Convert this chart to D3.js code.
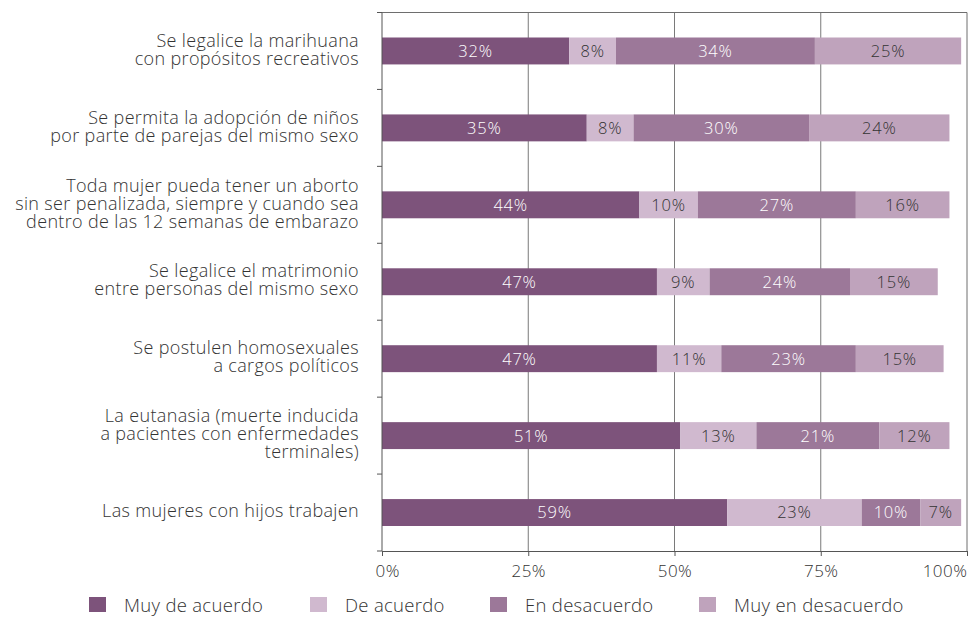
<!DOCTYPE html>
<html>
<head>
<meta charset="utf-8">
<script src="https://cdn.jsdelivr.net/npm/d3@7"></script>
<style>
  html, body { margin: 0; padding: 0; background: #fff; }
  svg { display: block; font-family: "Open Sans", "Noto Sans", sans-serif; font-weight: 300; }
</style>
</head>
<body>
<svg id="chart" width="973" height="621"></svg>
<script>
// Survey statements (each may span several lines)
const categories = [
  ["Se legalice la marihuana", "con propósitos recreativos"],
  ["Se permita la adopción de niños", "por parte de parejas del mismo sexo"],
  ["Toda mujer pueda tener un aborto", "sin ser penalizada, siempre y cuando sea", "dentro de las 12 semanas de embarazo"],
  ["Se legalice el matrimonio", "entre personas del mismo sexo"],
  ["Se postulen homosexuales", "a cargos políticos"],
  ["La eutanasia (muerte inducida", "a pacientes con enfermedades", "terminales)"],
  ["Las mujeres con hijos trabajen"]
];

const seriesNames = ["Muy de acuerdo", "De acuerdo", "En desacuerdo", "Muy en desacuerdo"];

// Percentages per statement, in category order
const muyDeAcuerdo     = [32, 35, 44, 47, 47, 51, 59];
const deAcuerdo        = [8, 8, 10, 9, 11, 13, 23];
const enDesacuerdo     = [34, 30, 27, 24, 23, 21, 10];
const muyEnDesacuerdo  = [25, 24, 16, 15, 15, 12, 7];

const xTicks = [0, 25, 50, 75, 100];

const colors = ["#7d537b", "#d0b9cf", "#9c7899", "#bfa3bc"];
const labelColors = ["#ffffff", "#333333", "#ffffff", "#333333"];

const rows = categories.map((c, i) => ({
  key: i,
  "Muy de acuerdo": muyDeAcuerdo[i],
  "De acuerdo": deAcuerdo[i],
  "En desacuerdo": enDesacuerdo[i],
  "Muy en desacuerdo": muyEnDesacuerdo[i]
}));

const svg = d3.select("#chart");
const plotLeft = 382, plotRight = 967, plotTop = 12.5, plotBottom = 551;

const x = d3.scaleLinear().domain([0, 100]).range([plotLeft, plotRight]);
const y = d3.scaleBand().domain(d3.range(categories.length)).range([plotTop, plotBottom]).paddingInner(0.65).paddingOuter(0.325);

// Vertical gridlines
svg.append("g")
  .selectAll("line")
  .data(xTicks.slice(1, -1))
  .join("line")
  .attr("x1", d => x(d)).attr("x2", d => x(d))
  .attr("y1", plotTop).attr("y2", plotBottom)
  .attr("stroke", "#7a7a7a").attr("stroke-width", 1);

// Stacked bars
const stack = d3.stack().keys(seriesNames);
const layers = stack(rows);

const gLayers = svg.append("g")
  .selectAll("g")
  .data(layers)
  .join("g")
  .attr("fill", (d, i) => colors[i]);

gLayers.selectAll("rect")
  .data(d => d)
  .join("rect")
  .attr("x", d => x(d[0]))
  .attr("width", d => x(d[1]) - x(d[0]))
  .attr("y", (d, i) => y(i))
  .attr("height", y.bandwidth());

// Value labels centred in each segment
svg.append("g")
  .selectAll("g")
  .data(layers)
  .join("g")
  .attr("fill", (d, i) => labelColors[i])
  .selectAll("text")
  .data(d => d)
  .join("text")
  .attr("x", d => (x(d[0]) + x(d[1])) / 2)
  .attr("y", (d, i) => y(i) + y.bandwidth() / 2)
  .attr("dy", "0.36em")
  .attr("text-anchor", "middle")
  .attr("font-size", 16.5)
  .attr("letter-spacing", 0.8)
  .text(d => (d[1] - d[0]) + "%");

// Frame: top and right edges
svg.append("path")
  .attr("d", `M${plotLeft},${plotTop}H${plotRight}V${plotBottom}`)
  .attr("fill", "none")
  .attr("stroke", "#6e6e6e").attr("stroke-width", 1);

// Bottom axis
const xAxis = svg.append("g")
  .attr("transform", `translate(0,${plotBottom})`)
  .call(d3.axisBottom(x).tickValues(xTicks).tickFormat(d => d + "%").tickSizeInner(5).tickSizeOuter(0).tickPadding(9));
xAxis.select(".domain").attr("stroke", "#555");
xAxis.selectAll(".tick line").attr("stroke", "#555");
xAxis.selectAll(".tick text")
  .attr("font-size", 17)
  .attr("letter-spacing", 0.5)
  .attr("fill", "#333")
  .attr("font-family", "Open Sans, sans-serif")
  .attr("font-weight", 300);
xAxis.selectAll(".tick text").filter(d => d === 0).attr("text-anchor", "start").attr("dx", -7);
xAxis.selectAll(".tick text").filter(d => d === 100).attr("text-anchor", "end").attr("dx", 0);

// Left axis with ticks between categories
const boundaries = d3.range(categories.length + 1).map(i => plotTop + i * y.step());
const gLeft = svg.append("g");
gLeft.append("line")
  .attr("x1", plotLeft).attr("x2", plotLeft).attr("y1", plotTop).attr("y2", plotBottom)
  .attr("stroke", "#555");
gLeft.selectAll("line.tick")
  .data(boundaries)
  .join("line")
  .attr("class", "tick")
  .attr("x1", plotLeft - 5).attr("x2", plotLeft)
  .attr("y1", d => d).attr("y2", d => d)
  .attr("stroke", "#555");

// Category labels
const lineH = 18;
svg.append("g")
  .selectAll("text")
  .data(categories)
  .join("text")
  .attr("text-anchor", "end")
  .attr("font-size", 18)
  .attr("letter-spacing", 0.35)
  .attr("fill", "#333")
  .each(function(lines, i) {
    const cy = y(i) + y.bandwidth() / 2;
    const y0 = cy - (lines.length - 1) * lineH / 2;
    d3.select(this).selectAll("tspan")
      .data(lines)
      .join("tspan")
      .attr("x", 359)
      .attr("y", (d, j) => y0 + j * lineH)
      .attr("dy", "0.26em")
      .text(d => d);
  });

// Legend
const legendX = [89, 310, 490, 699];
const legend = svg.append("g")
  .selectAll("g")
  .data(seriesNames)
  .join("g")
  .attr("transform", (d, i) => `translate(${legendX[i]},597)`);
legend.append("rect")
  .attr("width", 17).attr("height", 15)
  .attr("fill", (d, i) => colors[i]);
legend.append("text")
  .attr("x", 35).attr("y", 8)
  .attr("dy", "0.36em")
  .attr("font-size", 18.5)
  .attr("letter-spacing", 0.3)
  .attr("fill", "#333")
  .text(d => d);
</script>
</body>
</html>
